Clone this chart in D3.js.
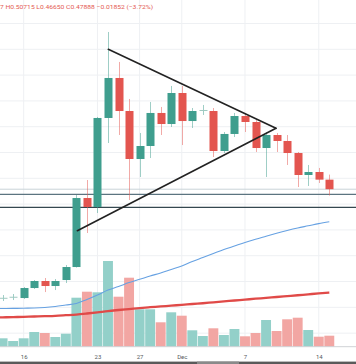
<!DOCTYPE html>
<html>
<head>
<meta charset="utf-8">
<script src="https://cdn.jsdelivr.net/npm/d3@7"></script>
<style>
  html, body { margin: 0; padding: 0; background: #ffffff; }
  svg { display: block; }
</style>
</head>
<body>
<svg id="chart" width="356" height="364"></svg>
<script>
// ---------------- DATA ----------------
const dates = ["2020-11-14","2020-11-15","2020-11-16","2020-11-17","2020-11-18","2020-11-19","2020-11-20","2020-11-21",
  "2020-11-22","2020-11-23","2020-11-24","2020-11-25","2020-11-26","2020-11-27","2020-11-28","2020-11-29",
  "2020-11-30","2020-12-01","2020-12-02","2020-12-03","2020-12-04","2020-12-05","2020-12-06","2020-12-07",
  "2020-12-08","2020-12-09","2020-12-10","2020-12-11","2020-12-12","2020-12-13","2020-12-14","2020-12-15"];
const open  = [0.2675,0.2695,0.2680,0.2874,0.3010,0.2913,0.3029,0.3281,0.4618,0.4444,0.6169,0.6944,0.6304,0.5374,0.5626,0.6266,
  0.6052,0.6653,0.6110,0.6304,0.6304,0.5529,0.5859,0.6207,0.6091,0.5587,0.5839,0.5723,0.5490,0.5064,0.5122,0.4974];
const high  = [0.2738,0.2758,0.2893,0.3029,0.3068,0.3048,0.3320,0.4676,0.4967,0.6188,0.7835,0.7254,0.6537,0.5878,0.6479,0.6382,
  0.6789,0.6789,0.6362,0.6421,0.6362,0.5897,0.6266,0.6266,0.6130,0.5897,0.5878,0.5839,0.5510,0.5258,0.5200,0.50715];
const low   = [0.2622,0.2641,0.2661,0.2855,0.2796,0.2835,0.2971,0.3270,0.3940,0.4328,0.5684,0.5839,0.4579,0.5025,0.5393,0.5839,
  0.5994,0.5645,0.5975,0.6227,0.5413,0.5490,0.5800,0.5897,0.5510,0.5025,0.5510,0.5258,0.4831,0.4851,0.4909,0.4665];
const close = [0.2685,0.2705,0.2874,0.3010,0.2913,0.3010,0.3281,0.4618,0.4444,0.6169,0.6944,0.6304,0.5374,0.5626,0.6266,0.6052,
  0.6653,0.6110,0.6304,0.6324,0.5529,0.5859,0.6207,0.6091,0.5587,0.5839,0.5723,0.5490,0.5064,0.5122,0.4974,0.47888];
const volume = [84,57,84,147,137,97,130,490,550,544,857,500,690,374,374,244,344,310,164,107,184,117,177,104,137,267,157,274,290,167,100,110];

// moving averages (start one day earlier, off the left edge)
const maDates = ["2020-11-13"].concat(dates);
const maFast = [0.2475,0.2477,0.2479,0.2483,0.2486,0.2496,0.2516,0.2545,0.2574,0.2651,0.2738,0.2835,0.2903,0.2981,0.3043,0.3107,0.3165,
  0.3233,0.3300,0.3388,0.3465,0.3543,0.3620,0.3688,0.3756,0.3818,0.3876,0.3934,0.3988,0.4037,0.4079,0.4122,0.4159];
const maSlow = [0.2302,0.2306,0.2310,0.2316,0.2322,0.2328,0.2335,0.2347,0.2360,0.2380,0.2403,0.2428,0.2448,0.2467,0.2486,0.2502,0.2517,
  0.2533,0.2548,0.2564,0.2579,0.2597,0.2614,0.2632,0.2649,0.2667,0.2682,0.2700,0.2717,0.2734,0.2752,0.2769,0.2787];

// drawings: triangle (fractional day index, price) and horizontal levels
const triUpper = [[10.03,0.7500],[25.94,0.5969]];
const triLower = [[7.09,0.3984],[25.94,0.5969]];
const levels = [0.4690, 0.4438];
const lastPrice = 0.47888;

const priceTicks = [0.20,0.25,0.30,0.35,0.40,0.45,0.50,0.55,0.60,0.65,0.70,0.75,0.80,0.85];
const tickDates = ["2020-11-16","2020-11-23","2020-11-27","2020-12-01","2020-12-07","2020-12-14"];
const tickLabels = ["16","23","27","Dec","7","14"];
const header = "7 H0.50715 L0.46650 C0.47888 \u22120.01852 (\u22123.72%)";

// ---------------- LAYOUT ----------------
const W = 356, H = 364;
const paneBottom = 346.7;
const UP = "#3f9e8e", DOWN = "#e3554f";
const UPV = "#93d0c9", DOWNV = "#f2a6a3";

const parse = d3.utcParse("%Y-%m-%d");
const D = dates.map(parse);
const x = d3.scaleUtc().domain([D[0], D[D.length-1]]).range([2.6, 329.3]);
const dayW = (x(D[1]) - x(D[0]));
const xi = t => x(D[0]) + t * dayW;   // fractional index -> x
const y = d3.scaleLinear().domain([0.1737, 0.8455]).range([paneBottom, 0]);
const yv = d3.scaleLinear().domain([0, 1000]).range([paneBottom, paneBottom - 100]);

const svg = d3.select("#chart");
svg.append("rect").attr("width", W).attr("height", H).attr("fill", "#ffffff");

// grid
const grid = svg.append("g");
grid.selectAll("line.h").data(priceTicks).join("line")
  .attr("x1", 0).attr("x2", W).attr("y1", d => y(d)).attr("y2", d => y(d))
  .attr("stroke", "#eef0f3").attr("stroke-width", 1);
grid.selectAll("line.v").data(tickDates.map(parse)).join("line")
  .attr("x1", d => x(d)).attr("x2", d => x(d)).attr("y1", 0).attr("y2", paneBottom)
  .attr("stroke", "#eef0f3").attr("stroke-width", 1);

// volume
const vw = dayW * 0.94;
svg.append("g").selectAll("rect").data(D).join("rect")
  .attr("x", (d,i) => x(d) - vw/2)
  .attr("width", vw)
  .attr("y", (d,i) => yv(volume[i]))
  .attr("height", (d,i) => paneBottom - yv(volume[i]))
  .attr("fill", (d,i) => close[i] >= open[i] ? UPV : DOWNV);

// moving averages
const MD = maDates.map(parse);
const line = d3.line().x(d => x(d[0])).y(d => y(d[1])).curve(d3.curveMonotoneX);
svg.append("path").datum(MD.map((d,i) => [d, maSlow[i]]))
  .attr("d", line).attr("fill", "none").attr("stroke", "#e04a48").attr("stroke-width", 2.3);
svg.append("path").datum(MD.map((d,i) => [d, maFast[i]]))
  .attr("d", line).attr("fill", "none").attr("stroke", "#66a1e2").attr("stroke-width", 1.1);

// horizontal levels
svg.append("line").attr("x1", 0).attr("x2", W).attr("y1", y(lastPrice)).attr("y2", y(lastPrice))
  .attr("stroke", "#c9d3d8").attr("stroke-width", 1);
svg.append("g").selectAll("line").data(levels).join("line")
  .attr("x1", 0).attr("x2", W).attr("y1", d => y(d)).attr("y2", d => y(d))
  .attr("stroke", (d,i) => i === 0 ? "#5b7480" : "#34474f").attr("stroke-width", 1.3);

// candles
const bw = 8;
const cg = svg.append("g");
cg.selectAll("line").data(D).join("line")
  .attr("x1", d => Math.round(x(d)) + 0.5).attr("x2", d => Math.round(x(d)) + 0.5)
  .attr("y1", (d,i) => y(high[i])).attr("y2", (d,i) => y(low[i]))
  .attr("stroke", (d,i) => close[i] >= open[i] ? UP : DOWN)
  .attr("stroke-opacity", 0.5).attr("stroke-width", 1);
cg.selectAll("rect").data(D).join("rect")
  .attr("x", d => Math.round(x(d)) + 0.5 - bw/2)
  .attr("width", bw)
  .attr("y", (d,i) => y(Math.max(open[i], close[i])))
  .attr("height", (d,i) => Math.max(1, Math.abs(y(open[i]) - y(close[i]))))
  .attr("fill", (d,i) => {
    const doji = Math.abs(y(open[i]) - y(close[i])) < 1.5;
    if (doji) return "#9fc9c1";
    return close[i] >= open[i] ? UP : DOWN;
  });

// triangle
const tl = d3.line().x(d => xi(d[0])).y(d => y(d[1]));
[triUpper, triLower].forEach(seg => {
  svg.append("path").attr("d", tl(seg)).attr("fill", "none")
    .attr("stroke", "#222222").attr("stroke-width", 1.6).attr("stroke-linecap", "round");
});

// time axis
svg.append("line").attr("x1", 0).attr("x2", W).attr("y1", paneBottom).attr("y2", paneBottom)
  .attr("stroke", "#cfd2d6").attr("stroke-width", 1);
const ax = svg.append("g").attr("transform", `translate(0,${paneBottom})`)
  .call(d3.axisBottom(x).tickValues(tickDates.map(parse)).tickFormat((d,i) => tickLabels[i]).tickSize(0).tickPadding(8.4));
ax.select(".domain").remove();
ax.selectAll("text").attr("font-family", "Roboto, 'Liberation Sans', sans-serif").attr("font-size", 6).attr("fill", "#555a60");

// header legend
svg.append("text").attr("x", 0).attr("y", 8.6)
  .attr("font-family", "Roboto, 'Liberation Sans', sans-serif").attr("font-size", 6)
  .attr("fill", "#e45a52").attr("textLength", 153).attr("lengthAdjust", "spacingAndGlyphs")
  .text(header);

// bottom strip (window scrollbar)
svg.append("rect").attr("x", 0).attr("y", 361.6).attr("width", W).attr("height", 2.4).attr("fill", "#5a5a5a");
svg.append("rect").attr("x", 197).attr("y", 361.6).attr("width", 42).attr("height", 2.4).attr("fill", "#8a8a8a");
</script>
</body>
</html>
